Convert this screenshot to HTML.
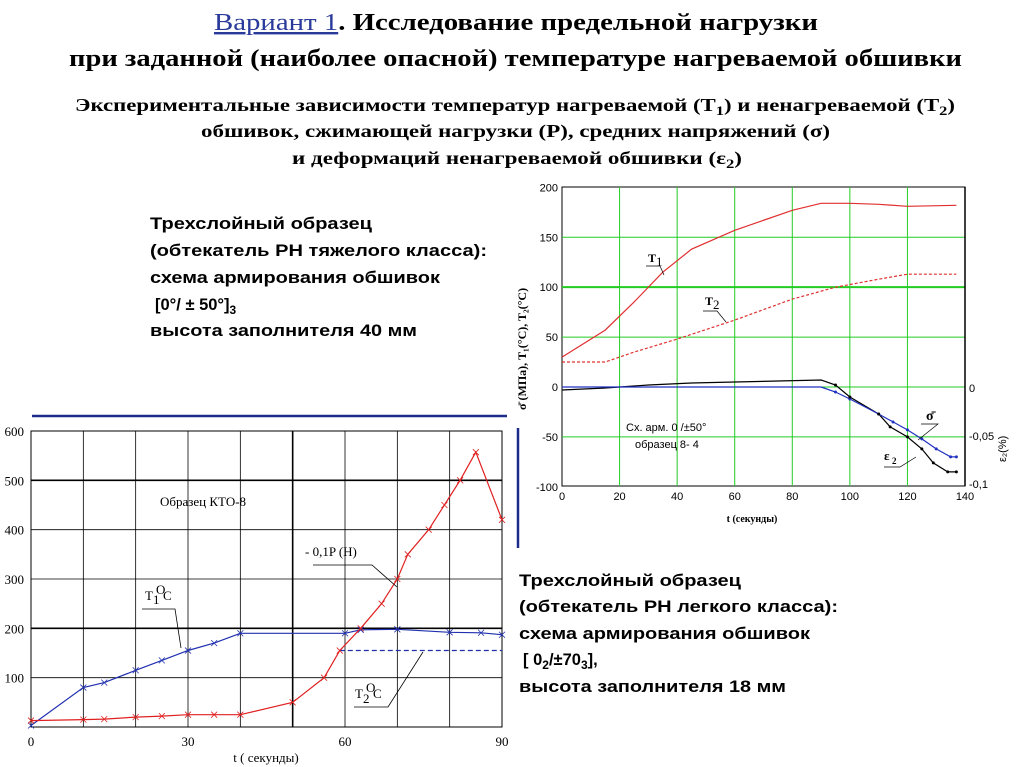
<!DOCTYPE html>
<html><head><meta charset="utf-8"><style>
body{margin:0;background:#fff;}
svg{display:block;}
.t{font-family:"Liberation Serif",serif;font-weight:bold;}
.s{font-family:"Liberation Sans",sans-serif;font-weight:bold;font-size:16.5px;}
.a{font-family:"Liberation Sans",sans-serif;font-size:11px;}
.l{font-family:"Liberation Serif",serif;font-size:13px;}
</style></head><body>
<svg id="g" width="1024" height="767" xmlns="http://www.w3.org/2000/svg">
<text class="t" x="214" y="30" font-size="24" textLength="604" lengthAdjust="spacingAndGlyphs"><tspan fill="#2a3a9a" font-weight="normal" text-decoration="underline">Вариант 1</tspan>. Исследование предельной нагрузки</text>
<text class="t" x="69" y="66" font-size="24" textLength="893" lengthAdjust="spacingAndGlyphs">при заданной (наиболее опасной) температуре нагреваемой обшивки</text>
<text class="t" x="75" y="111" font-size="18" textLength="880" lengthAdjust="spacingAndGlyphs">Экспериментальные зависимости температур нагреваемой (T<tspan font-size="13" dy="4">1</tspan><tspan dy="-4">) и ненагреваемой (T</tspan><tspan font-size="13" dy="4">2</tspan><tspan dy="-4">)</tspan></text>
<text class="t" x="201" y="137" font-size="18" textLength="629" lengthAdjust="spacingAndGlyphs">обшивок, сжимающей нагрузки (P), средних напряжений (σ)</text>
<text class="t" x="292" y="164" font-size="18" textLength="450" lengthAdjust="spacingAndGlyphs">и деформаций ненагреваемой обшивки (ε<tspan font-size="13" dy="4">2</tspan><tspan dy="-4">)</tspan></text>

<text class="s" x="150" y="229" textLength="222" lengthAdjust="spacingAndGlyphs">Трехслойный образец</text>
<text class="s" x="150" y="256" textLength="337" lengthAdjust="spacingAndGlyphs">(обтекатель РН тяжелого класса):</text>
<text class="s" x="150" y="283" textLength="290" lengthAdjust="spacingAndGlyphs">схема армирования обшивок</text>
<text class="s" x="155" y="310">[0°/ ± 50°]<tspan font-size="12" dy="4">3</tspan></text>
<text class="s" x="150" y="336" textLength="267" lengthAdjust="spacingAndGlyphs">высота заполнителя 40 мм</text>

<text class="s" x="519" y="586" textLength="222" lengthAdjust="spacingAndGlyphs">Трехслойный образец</text>
<text class="s" x="519" y="612" textLength="319" lengthAdjust="spacingAndGlyphs">(обтекатель РН легкого класса):</text>
<text class="s" x="519" y="639" textLength="291" lengthAdjust="spacingAndGlyphs">схема армирования обшивок</text>
<text class="s" x="523" y="665">[ 0<tspan font-size="12" dy="4">2</tspan><tspan dy="-4">/±70</tspan><tspan font-size="12" dy="4">3</tspan><tspan dy="-4">],</tspan></text>
<text class="s" x="519" y="692" textLength="267" lengthAdjust="spacingAndGlyphs">высота заполнителя 18 мм</text>

<line x1="32" y1="416" x2="507" y2="416" stroke="#1c2a8c" stroke-width="2.5"/>
<line x1="518" y1="428" x2="518" y2="548" stroke="#1c2a8c" stroke-width="2.5"/>
<g id="L"></g>
<g id="R"></g>
</svg>
<script>
var NS="http://www.w3.org/2000/svg";
function el(p,n,a,t){var e=document.createElementNS(NS,n);for(var k in a)e.setAttribute(k,a[k]);if(t!=null)e.textContent=t;p.appendChild(e);return e;}
var L=document.getElementById("L");
var lx=function(t){return 31+t*(471/90);}, ly=function(v){return 727-v*(296/600);};
el(L,"rect",{x:31,y:431,width:471,height:296,fill:"#fff",stroke:"#000","stroke-width":1});
for(var i=1;i<9;i++)el(L,"line",{x1:lx(i*10),y1:431,x2:lx(i*10),y2:727,stroke:"#000","stroke-width":i==5?1.6:0.8});
for(var i=1;i<6;i++)el(L,"line",{x1:31,y1:ly(i*100),x2:502,y2:ly(i*100),stroke:"#000","stroke-width":(i==2||i==5)?1.6:0.8});
for(var i=0;i<=6;i++)el(L,"text",{x:24,y:ly(i*100)+5,"text-anchor":"end",class:"l"},i==0?"":i*100);
[0,30,60,90].forEach(function(v){el(L,"text",{x:lx(v),y:746,"text-anchor":"middle",class:"l"},v)});
el(L,"text",{x:266,y:762,"text-anchor":"middle",class:"l"},"t ( секунды)");
el(L,"text",{x:160,y:506,class:"l","font-size":"12"},"Образец  КТО-8");
function pl(g,pts,fx,fy,st,dash,w){var s=pts.map(function(p){return fx(p[0]).toFixed(1)+","+fy(p[1]).toFixed(1)}).join(" ");var a={points:s,fill:"none",stroke:st,"stroke-width":w||1.2};if(dash)a["stroke-dasharray"]=dash;el(g,"polyline",a);}
function mk(g,pts,fx,fy,st){pts.forEach(function(p){var x=fx(p[0]),y=fy(p[1]);el(g,"path",{d:"M"+(x-3)+","+(y-3)+"L"+(x+3)+","+(y+3)+"M"+(x-3)+","+(y+3)+"L"+(x+3)+","+(y-3),stroke:st,"stroke-width":0.8});});}
var T1=[[0,3],[10,80],[14,90],[20,115],[25,135],[30,155],[35,170],[40,190],[60,190],[63,197],[70,198],[80,192],[86,191],[90,187]];
pl(L,T1,lx,ly,"#2030b0");mk(L,T1,lx,ly,"#2030b0");
pl(L,[[59,155],[90,155]],lx,ly,"#2030b0","5,3");
var P=[[0,13],[10,15],[14,16],[20,20],[25,22],[30,25],[35,25],[40,25],[50,50],[56,100],[59,155],[63,200],[67,250],[70,300],[72,350],[76,400],[79,450],[82,500],[85,557],[90,420]];
pl(L,P,lx,ly,"#e02020");mk(L,P,lx,ly,"#e02020");
el(L,"text",{x:145,y:600,class:"l"},"T");el(L,"text",{x:153,y:604,class:"l","font-size":"9"},"1");el(L,"text",{x:156,y:594,class:"l","font-size":"9"},"O");el(L,"text",{x:163,y:600,class:"l"},"C");
pl(L,[[142,609],[175,609],[181,648]],function(x){return x},function(y){return y},"#000",null,0.8);
el(L,"text",{x:305,y:556,class:"l"},"- 0,1P (H)");
pl(L,[[313,565],[372,565],[397,587]],function(x){return x},function(y){return y},"#000",null,0.8);
el(L,"text",{x:355,y:698,class:"l"},"T");el(L,"text",{x:363,y:703,class:"l","font-size":"9"},"2");el(L,"text",{x:366,y:692,class:"l","font-size":"9"},"O");el(L,"text",{x:373,y:698,class:"l"},"C");
pl(L,[[354,707],[388,707],[423,652]],function(x){return x},function(y){return y},"#000",null,0.8);
var R=document.getElementById("R");
var rx=function(t){return 562+t*(403/140);}, ry=function(v){return 387-v*(299.5/300);};
el(R,"rect",{x:562,y:187,width:403,height:299,fill:"#fff",stroke:"#000","stroke-width":1});
for(var i=1;i<7;i++)el(R,"line",{x1:rx(i*20),y1:187,x2:rx(i*20),y2:486,stroke:"#22cc22","stroke-width":1});
[-50,0,50,100,150].forEach(function(v){el(R,"line",{x1:562,y1:ry(v),x2:965,y2:ry(v),stroke:"#22cc22","stroke-width":v==100?2:1});});
el(R,"line",{x1:965,y1:187,x2:965,y2:486,stroke:"#000","stroke-width":1.5});
[-100,-50,0,50,100,150,200].forEach(function(v){el(R,"text",{x:558,y:ry(v)+4,"text-anchor":"end",class:"a","font-size":"10"},v)});
for(var i=0;i<=7;i++)el(R,"text",{x:rx(i*20),y:500,"text-anchor":"middle",class:"a","font-size":"10"},i*20);
el(R,"text",{x:969,y:392,class:"a","font-size":"10"},"0");
el(R,"text",{x:969,y:440,class:"a","font-size":"10"},"-0,05");
el(R,"text",{x:969,y:488,class:"a","font-size":"10"},"-0,1");
el(R,"text",{x:752,y:522,"text-anchor":"middle",class:"t","font-size":"10"},"t (секунды)");
el(R,"text",{x:0,y:0,class:"t","font-size":"12",transform:"translate(526,410) rotate(-90)"},"σ̄ (МПа), T₁(°C), T₂(°C)");
el(R,"text",{x:0,y:0,class:"a","font-size":"10",transform:"translate(1006,462) rotate(-90)"},"ε₂(%)");
pl(R,[[0,30],[15,57],[25,85],[35,115],[45,138],[60,157],[80,177],[90,184],[100,184],[110,183],[120,181],[137,182]],rx,ry,"#e03030");
pl(R,[[0,25],[15,25],[25,35],[40,48],[60,67],[80,88],[95,100],[110,108],[120,113],[137,113]],rx,ry,"#e03030","3,2");
var E=[[0,-3],[15,-1],[30,2],[45,4],[60,5],[75,6],[90,7],[95,2],[100,-10],[110,-27],[114,-40],[120,-50],[125,-62],[129,-76],[134,-85],[137,-85]];
pl(R,E,rx,ry,"#000");
var S=[[0,0],[90,0],[95,-5],[100,-12],[110,-27],[115,-35],[120,-43],[125,-52],[130,-62],[135,-70],[137,-70]];
pl(R,S,rx,ry,"#2030c0");
S.slice(2).forEach(function(p){el(R,"circle",{cx:rx(p[0]),cy:ry(p[1]),r:1.5,fill:"#2030c0"})});
E.slice(7).forEach(function(p){el(R,"circle",{cx:rx(p[0]),cy:ry(p[1]),r:1.5,fill:"#000"})});
el(R,"text",{x:648,y:262,class:"t","font-size":"12","font-weight":"normal"},"T");el(R,"text",{x:656,y:266,class:"l","font-size":"9"},"1");
pl(R,[[646,266],[660,266],[664,275]],function(x){return x},function(y){return y},"#000",null,0.7);
el(R,"text",{x:705,y:305,class:"t","font-size":"12","font-weight":"normal"},"T");el(R,"text",{x:713,y:309,class:"l","font-size":"9"},"2");
pl(R,[[703,311],[717,311],[726,322]],function(x){return x},function(y){return y},"#000",null,0.7);
el(R,"text",{x:626,y:431,class:"a","font-size":"12"},"Сх. арм. 0 /±50°");
el(R,"text",{x:635,y:448,class:"a","font-size":"10"},"образец 8- 4");
el(R,"text",{x:926,y:420,class:"t","font-size":"14"},"σ̄");
pl(R,[[921,424],[938,424],[918,440]],function(x){return x},function(y){return y},"#000",null,0.7);
el(R,"text",{x:884,y:460,class:"t","font-size":"13"},"ε");el(R,"text",{x:892,y:464,class:"t","font-size":"9"},"2");
pl(R,[[884,467],[900,467],[916,457]],function(x){return x},function(y){return y},"#000",null,0.7);
</script>
</body></html>
